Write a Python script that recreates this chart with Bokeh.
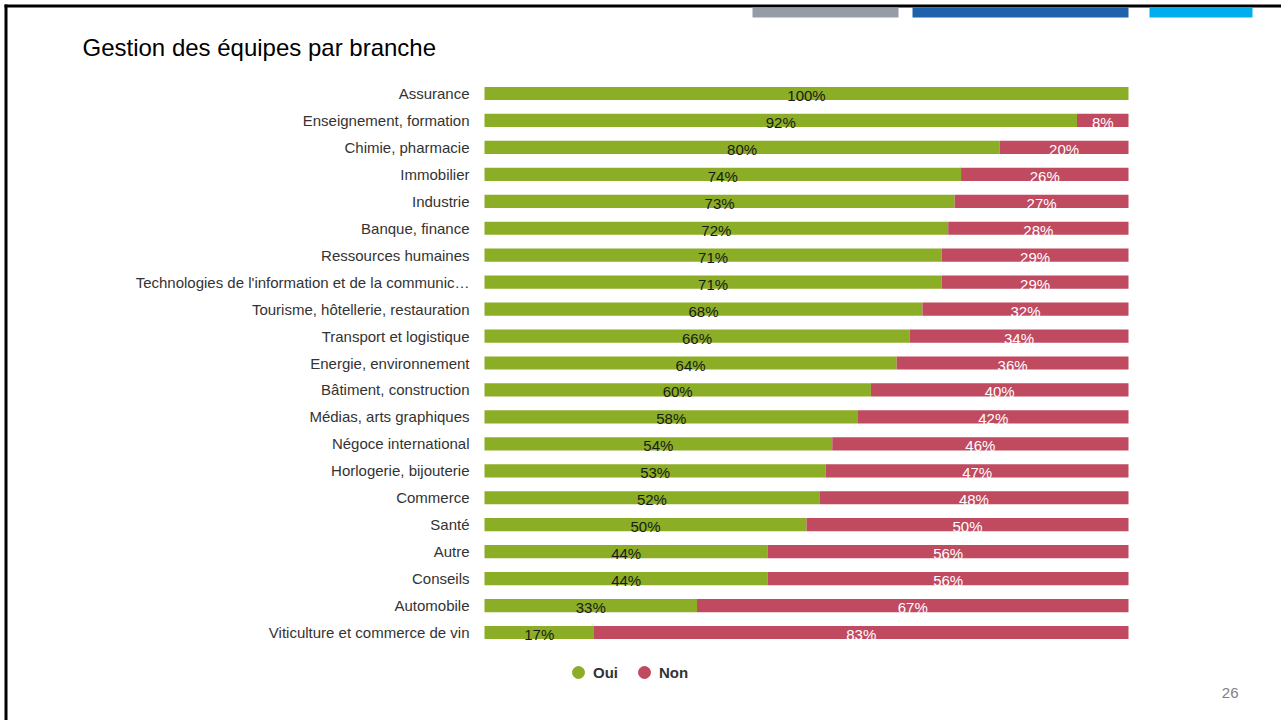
from bokeh.plotting import figure
from bokeh.models import (ColumnDataSource, Range1d, Label, BoxAnnotation,
                          Legend, LegendItem)
from bokeh.core.properties import value
from bokeh.embed import file_html
from bokeh.resources import INLINE

# ---------------- data ----------------
branches = [
    "Assurance",
    "Enseignement, formation",
    "Chimie, pharmacie",
    "Immobilier",
    "Industrie",
    "Banque, finance",
    "Ressources humaines",
    "Technologies de l'information et de la communic\u2026",
    "Tourisme, h\u00f4tellerie, restauration",
    "Transport et logistique",
    "Energie, environnement",
    "B\u00e2timent, construction",
    "M\u00e9dias, arts graphiques",
    "N\u00e9goce international",
    "Horlogerie, bijouterie",
    "Commerce",
    "Sant\u00e9",
    "Autre",
    "Conseils",
    "Automobile",
    "Viticulture et commerce de vin",
]
oui = [100, 92, 80, 74, 73, 72, 71, 71, 68, 66, 64, 60, 58, 54, 53, 52, 50, 44, 44, 33, 17]
non = [0, 8, 20, 26, 27, 28, 29, 29, 32, 34, 36, 40, 42, 46, 47, 48, 50, 56, 56, 67, 83]
series_names = ["Oui", "Non"]
title_text = "Gestion des \u00e9quipes par branche"
page_number = "26"

# ---------------- layout / style ----------------
GREEN = "#8cae26"
RED = "#c04a5f"
FONT = "Liberation Sans"

W, H = 1281, 720
N = len(branches)
BAR_L, BAR_R = 484, 1128        # canvas px of 0% and 100%
ROW0, ROWN = 93, 632            # canvas px of first and last row centre
SX = (BAR_R - BAR_L) / 100.0
SY = (ROWN - ROW0) / (N - 1)


def X(px):
    return (px - BAR_L) / SX


def Y(py):
    return (N - 1) - (py - ROW0) / SY


rows = [N - 1 - i for i in range(N)]
src = ColumnDataSource(dict(branche=branches, oui=oui, non=non, row=rows))

p = figure(width=W, height=H,
           x_range=Range1d(X(0), X(W)), y_range=Range1d(Y(H), Y(0)),
           output_backend="svg", toolbar_location=None,
           min_border_left=0, min_border_right=0,
           min_border_top=0, min_border_bottom=0)
p.axis.visible = False
p.grid.visible = False
p.outline_line_color = None
p.background_fill_color = "white"
p.border_fill_color = "white"

# slide decorations: border lines and coloured header bars
for (l, r, t, b, c) in [
    (4, W, 4, 7, "#000000"),
    (4, 7, 4, H, "#000000"),
    (752, 898, 7, 17, "#969ca6"),
    (912, 1128, 7, 17, "#1e62ab"),
    (1149, 1252, 7, 17, "#00aeef"),
]:
    p.add_layout(BoxAnnotation(left=X(l), right=X(r), top=Y(t), bottom=Y(b),
                               fill_color=c, fill_alpha=1, line_color=None))

# bars
p.hbar_stack(["oui", "non"], y="row", height=0.49, source=src,
             color=[GREEN, RED], line_color=None)

# category labels
p.text(x=X(469), y="row", text="branche", source=src, text_align="right",
       text_baseline="middle", text_font=value(FONT), text_font_size="15px",
       text_color="#333333")

# value labels
g_src = ColumnDataSource(dict(
    y=rows,
    x=[v / 2 for v in oui],
    t=[f"{v}%" for v in oui]))
r_idx = [i for i, v in enumerate(non) if v > 0]
r_src = ColumnDataSource(dict(
    y=[rows[i] for i in r_idx],
    x=[oui[i] + non[i] / 2 for i in r_idx],
    t=[f"{non[i]}%" for i in r_idx]))
p.text(x="x", y="y", text="t", source=g_src, text_align="center",
       text_baseline="middle", y_offset=2, text_font=value(FONT),
       text_font_size="15px", text_color="#1a1a1a")
p.text(x="x", y="y", text="t", source=r_src, text_align="center",
       text_baseline="middle", y_offset=2, text_font=value(FONT),
       text_font_size="15px", text_color="white")

# legend with circle markers (renderers hold no visible point)
nan = float("nan")
r_oui = p.scatter(x=[nan], y=[nan], marker="circle", size=12,
                  fill_color=GREEN, line_color=GREEN)
r_non = p.scatter(x=[nan], y=[nan], marker="circle", size=12,
                  fill_color=RED, line_color=RED)
legend = Legend(items=[LegendItem(label=series_names[0], renderers=[r_oui]),
                       LegendItem(label=series_names[1], renderers=[r_non])],
                orientation="horizontal", location=(563, 33),
                padding=0, margin=0, spacing=11,
                glyph_width=30, glyph_height=30, label_height=30,
                label_standoff=-6, label_text_font=FONT,
                label_text_font_size="15px", label_text_font_style="bold",
                label_text_color="#333333",
                border_line_color=None, background_fill_alpha=0)
p.add_layout(legend, "center")

# title and page number
p.add_layout(Label(x=X(82), y=Y(47), text=title_text, text_font=FONT,
                   text_font_size="24px", text_color="#000000",
                   text_align="left", text_baseline="middle"))
p.add_layout(Label(x=X(1238), y=Y(692), text=page_number, text_font=FONT,
                   text_font_size="15px", text_color="#808080",
                   text_align="right", text_baseline="middle"))

open("out.html", "w").write(file_html(p, INLINE))
